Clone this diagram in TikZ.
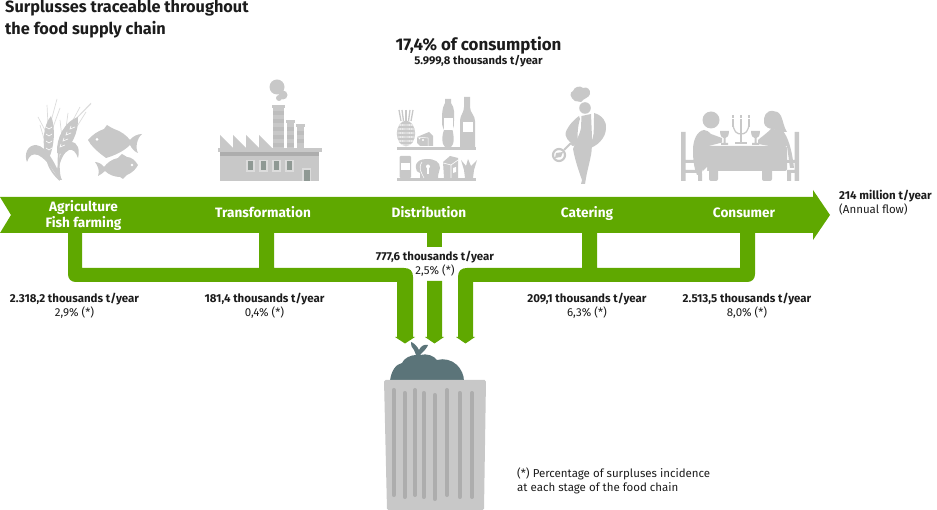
\documentclass[tikz,border=0pt]{standalone}
\usepackage{fontspec}
\setmainfont{Fira Sans}
\definecolor{flow}{HTML}{5FA800}
\definecolor{icon}{HTML}{C8C8C8}
\definecolor{icondark}{HTML}{ADADAD}
\definecolor{ink}{HTML}{1C1C1C}
\definecolor{bag}{HTML}{5B7479}
\definecolor{win}{HTML}{8F9994}
\definecolor{awn}{HTML}{DCDCDC}
\tikzset{
  pipe/.style={fill=flow,draw=none},
  ico/.style={fill=icon,draw=none},
  icod/.style={fill=icondark,draw=none},
  wht/.style={fill=white,draw=none},
  whl/.style={draw=white,line width=0.9pt,line cap=round},
  stagelabel/.style={font=\fontsize{13.6}{16}\selectfont\bfseries,text=white,align=center,inner sep=0pt},
  qty/.style={font=\fontsize{11.5}{14.4}\selectfont,text=ink,align=center,inner sep=0pt},
  rib/.style={draw=icondark,line width=4pt,line cap=round},
  awnl/.style={draw=awn,line width=0.7pt}
}
\begin{document}
\begin{tikzpicture}[x=1pt,y=-1pt]
\useasboundingbox (0,0) rectangle (937,510);
% main arrow
\fill[pipe] (0,197) -- (813,197) -- (813,190) -- (830,215) -- (813,240) -- (813,233) -- (0,233) -- (11,215) -- cycle;
% left branch
\fill[pipe] (68,232) -- (82,232) -- (82,268) -- (259,268) -- (259,232) -- (274,232) -- (274,268) -- (404,268)
  .. controls (410,268) and (413,271) .. (413,277) -- (413,337) -- (415,337) -- (405,343.5) -- (395,337) -- (397,337) -- (397,282)
  -- (76,282) .. controls (71,282) and (68,279) .. (68,274) -- cycle;
% right branch
\fill[pipe] (755,232) -- (740,232) -- (740,268) -- (597,268) -- (597,232) -- (582,232) -- (582,268) -- (467,268)
  .. controls (461,268) and (458,271) .. (458,277) -- (458,337) -- (456,337) -- (465.5,343.5) -- (475,337) -- (473,337) -- (473,282)
  -- (747,282) .. controls (752,282) and (755,279) .. (755,274) -- cycle;
% middle
\fill[pipe] (427,232) rectangle (442,247);
\fill[pipe] (427,281) -- (442,281) -- (442,337) -- (444,337) -- (434.5,343.5) -- (425,337) -- (427,337) -- cycle;
% bag
\fill[bag] (390,381) .. controls (391,371) and (396,364) .. (402,363) .. controls (404,358) and (411,355) .. (416,355)
  -- (414,350) .. controls (412,347) and (410,345) .. (411,342) .. controls (414,343) and (417,346) .. (419,350)
  .. controls (421,346) and (424,344) .. (428,345) .. controls (427,348) and (424,351) .. (420,355)
  .. controls (427,353) and (434,356) .. (437,360) .. controls (444,358) and (452,360) .. (457,365) .. controls (461,369) and (464,375) .. (464,381) -- cycle;
% bin
\fill[icon,rounded corners=1.5pt] (384,380) -- (486,380) -- (484,510) -- (387,510) -- cycle;
\foreach \xx/\ya/\yb in {393.7/390/495,404.7/393/497,415/390/495,423.7/393/497,434.7/395/499,447/390/495,459.7/393/497,472/393/497}
  \draw[rib] (\xx,\ya) -- (\xx,\yb);
% ---- wheat
\foreach \ax/\ay/\bx/\by in {50/125/57/99,48/125/47/105,46/132/38/117,52/130/60/108,45/142/40/125,
 70/125/91/103,72/122/80/107,66/128/68/113,75/120/91/104,62/138/60/120,76/128/86/112}
  \draw[awnl] (\ax,\ay) -- (\bx,\by);
\fill[ico] (46,158) .. controls (42,145) and (43,125) .. (51,116) .. controls (56,128) and (54,148) .. (49,158) -- cycle;
\fill[ico] (57,153) .. controls (56,138) and (65,121) .. (78,117) .. controls (79,132) and (71,149) .. (60,154) -- cycle;
\foreach \ya in {127,134,141,148}
  \draw[whl,line width=0.6pt] (46,\ya) -- (49,{\ya+2}) -- (52,\ya);
\foreach \xa/\ya in {71/126,67/132,64/138,61/144}
  \draw[whl,line width=0.6pt] (\xa,\ya) -- ({\xa-1},{\ya+3}) -- ({\xa+4},{\ya+1});
\draw[icon,line width=1.8pt] (47,158) .. controls (48,165) and (52,173) .. (60,180);
\draw[icon,line width=1.8pt] (59,152) .. controls (58,162) and (59,172) .. (60,180);
\fill[ico] (60,180) .. controls (52,170) and (48,160) .. (38,155) .. controls (32,153) and (29,156) .. (27,162)
  .. controls (24,155) and (27,145) .. (36,145) .. controls (47,146) and (56,165) .. (62,180) -- cycle;
\fill[ico] (57,170) .. controls (59,156) and (63,143) .. (71,142) .. controls (78,142) and (80,150) .. (78,158)
  .. controls (76,152) and (73,149) .. (69,150) .. controls (64,152) and (60,160) .. (58,172) -- cycle;
% ---- fish
\fill[ico] (88,140) .. controls (92,135) and (98,131) .. (104,129) -- (107,125) .. controls (110,127) and (112,128) .. (114,129)
  .. controls (121,131) and (127,136) .. (130,140) .. controls (133,136) and (138,134) .. (142,134)
  .. controls (137,138) and (135,148) .. (138,153) .. controls (135,152) and (132,149) .. (130,145)
  .. controls (123,152) and (113,156) .. (106,158) -- (102,155) .. controls (97,151) and (91,146) .. (88,140) -- cycle;
\fill[wht] (97,139.5) circle[radius=1.5pt];
\fill[ico] (138,165) .. controls (135,160) and (131,157) .. (127,157) -- (122,154) -- (118,158)
  .. controls (112,159) and (107,163) .. (104,167) .. controls (102,164) and (98,162) .. (95,162)
  .. controls (98,166) and (100,171) .. (98,176) .. controls (100,175) and (103,173) .. (105,171)
  .. controls (109,175) and (115,177) .. (120,177) -- (123,179) -- (127,175) .. controls (132,173) and (136,169) .. (138,165) -- cycle;
\fill[wht] (132,165) circle[radius=1.4pt];
% ---- factory
\fill[ico] (220,152) -- (220,135) -- (233,148) -- (233,135) -- (246,148) -- (246,135) -- (259,148) -- (259,135) -- (272,148) -- (272,152) -- cycle;
\foreach \xa/\xb/\yt in {273/284/108,287/294/123,297/304/127}{
  \fill[ico] (\xa,\yt) rectangle (\xb,150);
  \fill[ico] ({\xa-1},{\yt-3}) rectangle ({\xb+1},\yt);
}
\foreach \yy in {111,119,127,135,143} \fill[icondark!80!white] (273,\yy) rectangle (284,{\yy+4});
\foreach \yy in {127,135,143} \fill[icondark!80!white] (287,\yy) rectangle (294,{\yy+4});
\foreach \yy in {131,139} \fill[icondark!80!white] (297,\yy) rectangle (304,{\yy+4});
\fill[ico] (277,87) circle[radius=7.5pt];
\fill[ico] (283,95) circle[radius=4.5pt];
\fill[ico] (279,98) circle[radius=3pt];
\fill[ico] (220,152) rectangle (319,181);
\fill[icondark] (220,152) rectangle (319,156);
\fill[ico] (218,148) rectangle (322,152);
\foreach \xa in {246,259,272,285}{
  \fill[awn] (\xa,160) rectangle ({\xa+8.5},172);
  \fill[win] ({\xa+1.5},161.5) rectangle ({\xa+7},170.5);
}
\fill[awn] (302,168) rectangle (311,181);
\fill[win] (303.5,170) rectangle (309.5,181);
% ---- shelves
\fill[ico] (397,147) rectangle (476,150);
\fill[ico] (397,178) rectangle (476,181);
\fill[ico] (406,133.5) ellipse [x radius=9.2pt,y radius=12.8pt];
\foreach \yy in {124,128,132,136,140,144}{\draw[white,line width=0.35pt] (397,\yy) -- (415,{\yy+2}); \draw[white,line width=0.35pt] (397,{\yy+2}) -- (415,\yy);}
\foreach \ax/\bx in {399/401,402/403.5,406/406,410/408.5,413/411}\draw[icon,line width=1.3pt] (\ax,110) -- (\bx,121);
\fill[ico] (417,137) -- (429,132) -- (433,136) -- (433,146) -- (420,146) -- (417,143) -- cycle;
\fill[wht] (423,140) circle[radius=1.2pt] (419.5,138.5) circle[radius=.8pt];
\draw[white,line width=.5pt] (417,137) -- (428,138) -- (428,146);
\fill[ico] (445,99) -- (451,99) -- (451,103) .. controls (455,108) and (454,114) .. (454,120) .. controls (454,125) and (454,127) .. (452.5,130) .. controls (454,136) and (454,141) .. (453,144) -- (451,147) -- (445,147) -- (443,144) .. controls (442,140) and (442,135) .. (444,130) .. controls (442,126) and (442,124) .. (442,120) .. controls (442,114) and (442,108) .. (445,103) -- cycle;
\fill[wht] (444,118) rectangle (453,130);
\fill[ico] (464,97) -- (470,97) -- (470,107) .. controls (470,113) and (475,115) .. (475,121) -- (475,147) -- (460,147) -- (460,121) .. controls (460,115) and (464,113) .. (464,107) -- cycle;
\fill[wht] (463,122) rectangle (473,132);
% lower shelf items
\fill[ico,rounded corners=1pt] (399.5,156) rectangle (411,178);
\fill[wht] (401,163) rectangle (410,170);
\fill[ico] (416,168) .. controls (415,161) and (421,159) .. (427,159) .. controls (435,159) and (440,162) .. (440,168) .. controls (440,171) and (438,172) .. (438,178) -- (420,178) -- (420,173) .. controls (417,172) and (416,171) .. (416,168) -- cycle;
\fill[wht] (428,166.5) circle[radius=2pt];
\fill[wht] (427,167) rectangle (429,174);
\draw[white,line width=.6pt] (422,162) .. controls (418,168) and (421,172) .. (424,178);
\fill[ico] (443,162) -- (450,156) -- (458,158) -- (458,178) -- (444,178) -- cycle;
\draw[white,line width=.6pt] (443,163) -- (451,165) -- (458,160) (451,165) -- (451,178);
\fill[wht] (453,168) -- (456,167) -- (456,172) -- (453,173) -- cycle;
\fill[ico] (465,178) -- (464,170) -- (461,160) -- (466,166) -- (468,159) -- (471,166) -- (477,160) -- (474,170) -- (473,178) -- cycle;
% ---- chef
\fill[ico] (575,101) .. controls (570,98) and (569,92) .. (573,91) .. controls (574,87) and (580,85) .. (583,88) .. controls (587,86) and (591,90) .. (590,94) .. controls (589,98) and (584,98) .. (581,102) -- cycle;
\fill[ico] (585,108) circle[radius=5.8pt];
% left arm crescent
\fill[ico] (579,116) .. controls (572,121) and (565,130) .. (565.5,135) .. controls (567,141) and (572,144) .. (576,145) -- (578,141) .. controls (577,135) and (578,125) .. (580,119) -- cycle;
% right arm crescent
\fill[ico] (594,113) .. controls (602,115) and (607,122) .. (606,128) .. controls (606,138) and (597,147) .. (587,149) .. controls (590,145) and (593,140) .. (593.5,134) .. controls (594,128) and (594,120) .. (594,113) -- cycle;
% apron and legs
\fill[ico] (581.5,116) -- (591,114) -- (592,137) .. controls (592,143) and (592,150) .. (591,155) .. controls (589,165) and (587,172) .. (586,178) -- (585,184) -- (581,184) -- (582,180) .. controls (579,172) and (575,160) .. (573,149) .. controls (575,143) and (580,134) .. (581,128) -- cycle;
\draw[icon,line width=2.2pt] (559,155) circle[radius=6pt];
\fill[ico] (556,153) -- (563,152) -- (561,157) -- (555,158) -- cycle;
\draw[icon,line width=1.8pt] (564,150) -- (571,143);
\fill[ico] (573,144) circle[radius=2pt];
% ---- diners
\fill[ico] (711,120) circle[radius=8.5pt];
\fill[ico] (704,130) .. controls (697,131) and (693,140) .. (693,150) .. controls (693,160) and (694,168) .. (697,175) -- (702,175) -- (705,147) -- (722,142.5) -- (722,138) -- (711,134) .. controls (709,132) and (707,130) .. (704,130) -- cycle;
\fill[ico] (773,111) .. controls (766,110) and (763,117) .. (764,123) .. controls (765,127) and (769,129) .. (773,129) .. controls (777,131) and (781,132) .. (787,132) .. controls (784,128) and (783,120) .. (781,116) .. controls (779,112) and (776,111) .. (773,111) -- cycle;
\fill[ico] (771,129) .. controls (766,134) and (760,138) .. (758,140) -- (758,144) -- (775,147) -- (787,146) -- (790,168) -- (794,168) .. controls (792,150) and (788,136) .. (782,130) -- cycle;
\fill[ico] (681,132) -- (685.5,132) -- (685.5,160) -- (702,160) -- (702,163) -- (685.5,163) -- (685.5,170) -- (702,170) -- (702,181) -- (698,181) -- (698,173) -- (685.5,173) -- (685.5,181) -- (681,181) -- cycle;
\fill[ico] (799,132) -- (794.5,132) -- (794.5,160) -- (787,160) -- (787,163) -- (794.5,163) -- (794.5,170) -- (787,170) -- (787,181) -- (791,181) -- (791,173) -- (794.5,173) -- (794.5,181) -- (799,181) -- cycle;
\fill[ico,rounded corners=2pt] (702,146) rectangle (787,171);
\fill[ico,rounded corners=2pt] (709,160) rectangle (718,181);
\fill[ico,rounded corners=2pt] (762,160) rectangle (772,181);
\fill[wht] (702,172) -- (707,167) -- (707,181) -- (704,181) -- cycle;
% glasses
\fill[ico] (720,131) -- (729,131) .. controls (729,136) and (727,138) .. (725.5,138) -- (725.5,143) -- (728,143) -- (728,145) -- (721,145) -- (721,143) -- (723.5,143) -- (723.5,138) .. controls (722,138) and (720,136) .. (720,131) -- cycle;
\fill[ico] (751,131) -- (760,131) .. controls (760,136) and (758,138) .. (756.5,138) -- (756.5,143) -- (759,143) -- (759,145) -- (752,145) -- (752,143) -- (754.5,143) -- (754.5,138) .. controls (753,138) and (751,136) .. (751,131) -- cycle;
% candelabra
\draw[icon,line width=1.3pt] (733,122) .. controls (733,132) and (737,134) .. (741,134) .. controls (745,134) and (749,132) .. (749,122);
\draw[icon,line width=1.3pt] (741,120) -- (741,143);
\fill[ico] (735,142) rectangle (747,144.5);
\foreach \xx in {733,741,749}{
  \fill[ico] ({\xx-1.3},119) rectangle ({\xx+1.3},127);
  \fill[ico] ({\xx-.8},115) rectangle ({\xx+.8},118);
}
% ---- texts
\node[anchor=west,inner sep=0pt,align=left,text=ink,font=\fontsize{16.3}{22}\selectfont\bfseries] (title) at (5,19.5) {Surplusses traceable throughout\\the food supply chain};
\node[inner sep=0pt,text=ink,font=\fontsize{16.9}{18}\selectfont\bfseries] (total) at (478.5,46) {17,4\% of consumption};
\node[qty,font=\fontsize{11.3}{14}\selectfont\bfseries] (totalq) at (478.5,61) {5.999,8 thousands t/year};
\node[stagelabel] (s1) at (83.5,215) {Agriculture\\Fish farming};
\node[stagelabel,anchor=base] (s2) at (263,218) {Transformation};
\node[stagelabel,anchor=base] (s3) at (429,218) {Distribution};
\node[stagelabel,anchor=base] (s4) at (587,218) {Catering};
\node[stagelabel,anchor=base] (s5) at (744,218) {Consumer};
\node[qty,anchor=west,align=left] (flow) at (839,202.5) {\textbf{214 million t/year}\\(Annual flow)};
\node[qty] (q1) at (74.5,306) {\textbf{2.318,2 thousands t/year}\\2,9\% (*)};
\node[qty] (q2) at (264.5,306) {\textbf{181,4 thousands t/year}\\0,4\% (*)};
\node[qty] (q3) at (435,264) {\textbf{777,6 thousands t/year}\\2,5\% (*)};
\node[qty] (q4) at (587,306) {\textbf{209,1 thousands t/year}\\6,3\% (*)};
\node[qty] (q5) at (747,306) {\textbf{2.513,5 thousands t/year}\\8,0\% (*)};
\node[qty,anchor=west,align=left] (note) at (517,481) {(*) Percentage of surpluses incidence\\at each stage of the food chain};
\end{tikzpicture}
\end{document}
